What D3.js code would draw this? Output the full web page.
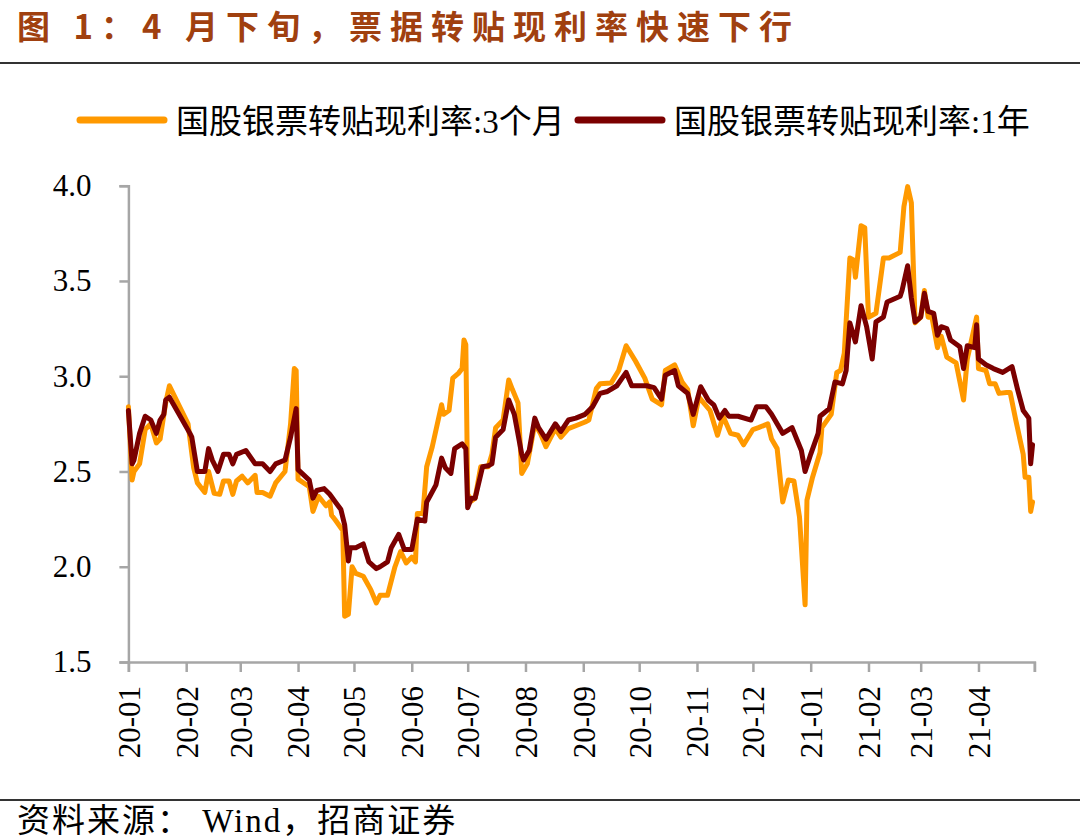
<!DOCTYPE html>
<html>
<head>
<meta charset="utf-8">
<script src="https://cdn.jsdelivr.net/npm/d3@7"></script>
<style>
  html, body { margin: 0; padding: 0; background: #fff; }
  svg { display: block; }
</style>
</head>
<body>
<div id="chart"></div>
<script>
// 国股银票转贴现利率:3个月
var dates3m = [
  "2020-01-01","2020-01-03","2020-01-04","2020-01-07","2020-01-10","2020-01-13","2020-01-16","2020-01-18","2020-01-21","2020-01-23",
  "2020-02-02","2020-02-05","2020-02-07","2020-02-11","2020-02-13","2020-02-16","2020-02-19","2020-02-21","2020-02-24","2020-02-26","2020-02-28",
  "2020-03-02","2020-03-05","2020-03-09","2020-03-10","2020-03-13","2020-03-17","2020-03-20","2020-03-25","2020-03-28","2020-03-30","2020-03-31",
  "2020-04-01","2020-04-07","2020-04-09","2020-04-12","2020-04-16","2020-04-18","2020-04-19","2020-04-21","2020-04-25","2020-04-26","2020-04-28","2020-04-30",
  "2020-05-02","2020-05-06","2020-05-10","2020-05-13","2020-05-15","2020-05-19","2020-05-23","2020-05-26","2020-05-29",
  "2020-06-01","2020-06-03","2020-06-04","2020-06-07","2020-06-09","2020-06-12","2020-06-17","2020-06-18","2020-06-21","2020-06-23","2020-06-26","2020-06-28","2020-06-29","2020-06-30",
  "2020-07-01","2020-07-03","2020-07-05","2020-07-08","2020-07-12","2020-07-14","2020-07-16","2020-07-20","2020-07-23","2020-07-25","2020-07-28","2020-07-30",
  "2020-08-02","2020-08-06","2020-08-09","2020-08-12","2020-08-17","2020-08-20","2020-08-24","2020-08-28",
  "2020-09-02","2020-09-04","2020-09-08","2020-09-10","2020-09-16","2020-09-20","2020-09-24","2020-09-29",
  "2020-10-04","2020-10-08","2020-10-13","2020-10-15","2020-10-20","2020-10-24","2020-10-27","2020-10-30",
  "2020-11-02","2020-11-08","2020-11-12","2020-11-15","2020-11-19","2020-11-23","2020-11-26",
  "2020-12-01","2020-12-04","2020-12-09","2020-12-11","2020-12-14","2020-12-17","2020-12-20","2020-12-23","2020-12-26","2020-12-29","2020-12-30",
  "2021-01-02","2021-01-06","2021-01-07","2021-01-12","2021-01-15","2021-01-17","2021-01-19","2021-01-22","2021-01-24","2021-01-25","2021-01-28","2021-01-30",
  "2021-02-01","2021-02-05","2021-02-09","2021-02-12","2021-02-18","2021-02-20","2021-02-22","2021-02-24","2021-02-26",
  "2021-03-01","2021-03-03","2021-03-05","2021-03-07","2021-03-10","2021-03-12","2021-03-15","2021-03-20","2021-03-24","2021-03-26","2021-03-31",
  "2021-04-01","2021-04-05","2021-04-07","2021-04-10","2021-04-12","2021-04-16","2021-04-18","2021-04-21","2021-04-25","2021-04-26","2021-04-28","2021-04-29","2021-04-30"
];
var rate3m = [
  2.84,2.455,2.50,2.54,2.72,2.75,2.65,2.67,2.86,2.95,
  2.75,2.52,2.44,2.39,2.50,2.385,2.38,2.45,2.45,2.38,2.45,
  2.475,2.44,2.48,2.39,2.39,2.37,2.44,2.50,2.75,3.04,3.03,
  2.46,2.42,2.29,2.37,2.32,2.34,2.27,2.245,2.19,1.74,1.75,2.00,
  1.965,1.95,1.88,1.81,1.85,1.85,2.00,2.08,2.02,
  2.05,2.025,2.28,2.28,2.525,2.63,2.85,2.80,2.82,2.99,3.015,3.04,3.19,3.165,
  2.38,2.345,2.36,2.525,2.525,2.59,2.73,2.77,2.98,2.93,2.86,2.49,
  2.54,2.75,2.70,2.63,2.725,2.68,2.725,2.74,
  2.76,2.77,2.935,2.96,2.965,3.03,3.16,3.08,
  2.99,2.88,2.85,3.03,3.06,2.97,2.93,2.74,
  2.89,2.82,2.69,2.79,2.70,2.69,2.64,
  2.72,2.73,2.75,2.67,2.62,2.34,2.455,2.45,2.26,1.80,2.35,
  2.47,2.60,2.73,2.80,3.02,3.03,3.12,3.62,3.61,3.52,3.79,3.78,
  3.31,3.33,3.62,3.62,3.65,3.89,3.995,3.91,3.28,
  3.31,3.45,3.31,3.31,3.15,3.21,3.10,3.07,2.875,3.09,3.31,
  3.04,3.03,2.96,2.96,2.91,2.915,2.915,2.77,2.59,2.47,2.47,2.29,2.34
];

// 国股银票转贴现利率:1年
var dates1y = [
  "2020-01-01","2020-01-03","2020-01-04","2020-01-07","2020-01-10","2020-01-13","2020-01-16","2020-01-18","2020-01-20","2020-01-21","2020-01-23",
  "2020-02-03","2020-02-04","2020-02-07","2020-02-11","2020-02-13","2020-02-15","2020-02-18","2020-02-21","2020-02-24","2020-02-26","2020-02-28",
  "2020-03-04","2020-03-09","2020-03-13","2020-03-17","2020-03-20","2020-03-25","2020-03-28","2020-03-31",
  "2020-04-01","2020-04-07","2020-04-09","2020-04-11","2020-04-15","2020-04-18","2020-04-21","2020-04-24","2020-04-26","2020-04-28","2020-04-29",
  "2020-05-02","2020-05-06","2020-05-09","2020-05-13","2020-05-15","2020-05-19","2020-05-21","2020-05-25","2020-05-28",
  "2020-06-01","2020-06-04","2020-06-08","2020-06-09","2020-06-11","2020-06-14","2020-06-17","2020-06-19","2020-06-22","2020-06-24","2020-06-28","2020-06-30",
  "2020-07-01","2020-07-03","2020-07-05","2020-07-09","2020-07-12","2020-07-14","2020-07-16","2020-07-20","2020-07-23","2020-07-26","2020-07-30","2020-07-31",
  "2020-08-03","2020-08-06","2020-08-08","2020-08-12","2020-08-17","2020-08-20","2020-08-24","2020-08-28",
  "2020-09-02","2020-09-06","2020-09-10","2020-09-14","2020-09-19","2020-09-24","2020-09-27",
  "2020-10-05","2020-10-09","2020-10-13","2020-10-15","2020-10-20","2020-10-22","2020-10-27","2020-10-30",
  "2020-11-03","2020-11-07","2020-11-10","2020-11-13","2020-11-16","2020-11-18","2020-11-23","2020-11-30",
  "2020-12-03","2020-12-08","2020-12-11","2020-12-17","2020-12-22","2020-12-27","2020-12-29",
  "2021-01-01","2021-01-05","2021-01-06","2021-01-11","2021-01-14","2021-01-18","2021-01-20","2021-01-22","2021-01-25","2021-01-28","2021-01-31",
  "2021-02-03","2021-02-05","2021-02-09","2021-02-11","2021-02-18","2021-02-19","2021-02-22","2021-02-24","2021-02-26",
  "2021-03-01","2021-03-03","2021-03-05","2021-03-08","2021-03-10","2021-03-12","2021-03-15","2021-03-17","2021-03-22","2021-03-24","2021-03-26","2021-03-30","2021-03-31",
  "2021-04-01","2021-04-05","2021-04-09","2021-04-14","2021-04-19","2021-04-22","2021-04-25","2021-04-28","2021-04-29","2021-04-30"
];
var rate1y = [
  2.82,2.54,2.56,2.70,2.79,2.77,2.70,2.77,2.80,2.875,2.89,
  2.70,2.68,2.50,2.50,2.62,2.56,2.50,2.59,2.59,2.54,2.59,
  2.61,2.54,2.54,2.50,2.54,2.56,2.68,2.83,
  2.51,2.455,2.36,2.40,2.41,2.38,2.34,2.30,2.22,2.03,2.10,
  2.10,2.12,2.025,1.99,2.00,2.025,2.10,2.17,2.09,
  2.09,2.25,2.24,2.34,2.375,2.43,2.57,2.52,2.49,2.62,2.645,2.62,
  2.31,2.36,2.36,2.525,2.53,2.54,2.68,2.72,2.875,2.80,2.59,2.56,
  2.61,2.78,2.73,2.67,2.75,2.71,2.77,2.78,
  2.80,2.84,2.91,2.92,2.95,3.02,2.95,
  2.95,2.94,2.88,3.005,3.03,2.95,2.91,2.80,
  2.945,2.875,2.85,2.78,2.82,2.79,2.79,2.77,
  2.84,2.84,2.80,2.70,2.73,2.61,2.50,
  2.59,2.70,2.79,2.83,2.97,2.96,3.03,3.28,3.18,3.37,3.26,
  3.09,3.285,3.31,3.39,3.42,3.45,3.58,3.41,3.285,
  3.31,3.435,3.34,3.33,3.215,3.26,3.25,3.19,3.155,3.04,3.16,3.15,3.27,
  3.09,3.06,3.04,3.02,3.05,2.93,2.82,2.78,2.54,2.64
];

var seriesNames = ["国股银票转贴现利率:3个月", "国股银票转贴现利率:1年"];
var seriesColors = ["#FF9900", "#7B0000"];
var monthTicks = ["2020-01-01","2020-02-01","2020-03-01","2020-04-01","2020-05-01","2020-06-01","2020-07-01","2020-08-01",
  "2020-09-01","2020-10-01","2020-11-01","2020-12-01","2021-01-01","2021-02-01","2021-03-01","2021-04-01","2021-05-01"];
var yTicks = [1.5, 2.0, 2.5, 3.0, 3.5, 4.0];

var W = 1080, H = 839;
var AXIS_COLOR = "#A6A6A6";
var SERIF = "'Liberation Serif', 'Times New Roman', 'Noto Sans CJK SC', serif";
var parse = d3.timeParse("%Y-%m-%d");

var svg = d3.select("#chart").append("svg")
  .attr("width", W)
  .attr("height", H);

// title
svg.append("text")
  .attr("x", 17)
  .attr("y", 39)
  .style("font-family", "'Noto Sans CJK SC', sans-serif")
  .style("font-weight", "700")
  .style("font-size", "33px")
  .style("letter-spacing", "8px")
  .style("fill", "#A0400F")
  .text("图 1：4 月下旬，票据转贴现利率快速下行");

svg.append("line")
  .attr("x1", 0).attr("x2", W)
  .attr("y1", 63).attr("y2", 63)
  .style("stroke", "#333")
  .style("stroke-width", 2);

svg.append("line")
  .attr("x1", 0).attr("x2", W)
  .attr("y1", 800).attr("y2", 800)
  .style("stroke", "#333")
  .style("stroke-width", 2);

svg.append("text")
  .attr("x", 17)
  .attr("y", 832)
  .style("font-family", SERIF)
  .style("font-size", "33px")
  .style("letter-spacing", "2px")
  .style("fill", "#000")
  .text("资料来源： Wind，招商证券");

// scales
var x = d3.scaleTime()
  .domain([parse("2020-01-01"), parse("2021-05-01")])
  .range([128.4, 1034.4]);

var y = d3.scaleLinear()
  .domain([1.5, 4.0])
  .range([662, 185.7]);

// axes
var xAxis = svg.append("g")
  .attr("transform", "translate(0,662)")
  .call(d3.axisBottom(x)
    .tickValues(monthTicks.map(parse))
    .tickSizeOuter(0)
    .tickSize(10)
    .tickFormat(function (d, i) { return i === monthTicks.length - 1 ? "" : d3.timeFormat("%y-%m")(d); }));

xAxis.selectAll("text")
  .attr("transform", "rotate(-90)")
  .attr("text-anchor", "end")
  .attr("x", -24)
  .attr("y", 0)
  .attr("dy", "0.35em")
  .style("font-family", SERIF)
  .style("font-size", "31px")
  .style("fill", "#000");

var yAxis = svg.append("g")
  .attr("transform", "translate(128.4,0)")
  .call(d3.axisLeft(y)
    .tickValues(yTicks)
    .tickSizeOuter(0)
    .tickSize(9)
    .tickPadding(37)
    .tickFormat(d3.format(".1f")));

yAxis.selectAll("text")
  .style("font-family", SERIF)
  .style("font-size", "31px")
  .style("fill", "#000")
  .style("text-anchor", "end")
  .attr("x", -37);

svg.selectAll(".domain, .tick line")
  .style("stroke", AXIS_COLOR)
  .style("stroke-width", 2.5);

// lines
var line = d3.line()
  .x(function (d) { return x(d.date); })
  .y(function (d) { return y(d.value); });

var series = [
  { name: seriesNames[0], color: seriesColors[0], points: dates3m.map(function (d, i) { return { date: parse(d), value: rate3m[i] }; }) },
  { name: seriesNames[1], color: seriesColors[1], points: dates1y.map(function (d, i) { return { date: parse(d), value: rate1y[i] }; }) }
];

svg.append("g").selectAll(".series")
  .data(series)
  .enter().append("path")
  .attr("class", "series")
  .attr("d", function (d) { return line(d.points); })
  .style("fill", "none")
  .style("stroke", function (d) { return d.color; })
  .style("stroke-width", 5)
  .style("stroke-linejoin", "round")
  .style("stroke-linecap", "round");

// legend
var legendX = [80, 578];
var legend = svg.append("g").selectAll(".legend")
  .data(series)
  .enter().append("g")
  .attr("class", "legend")
  .attr("transform", function (d, i) { return "translate(" + legendX[i] + ",120)"; });

legend.append("line")
  .attr("x1", 0).attr("x2", 84)
  .style("stroke", function (d) { return d.color; })
  .style("stroke-width", 7)
  .style("stroke-linecap", "round");

legend.append("text")
  .attr("x", 96)
  .attr("y", 13)
  .style("font-family", SERIF)
  .style("font-size", "33px")
  .style("fill", "#000")
  .text(function (d) { return d.name; });
</script>
</body>
</html>
